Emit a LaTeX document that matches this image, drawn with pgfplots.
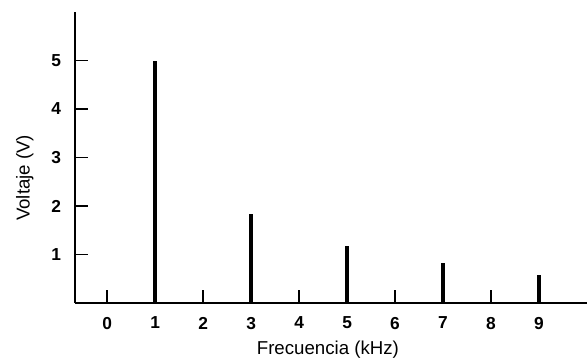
\documentclass[border=0pt]{standalone}
\usepackage{pgfplots}
\pgfplotsset{compat=1.18}
\usepackage{fontspec}
\setmainfont{Liberation Sans}
\begin{document}
\begin{tikzpicture}
\begin{axis}[
  scale only axis,
  width=384pt, height=218.25pt,
  xmin=-0.67, xmax=10.0,
  ymin=0, ymax=6,
  axis lines=left,
  axis line style={-, line width=1.4pt, black},
  xtick={0,1,2,3,4,5,6,7,8,9},
  ytick={1,2,3,4,5},
  tick align=inside,
  major tick length=9.5pt,
  tick style={line width=1pt, black},
  /pgf/number format/assume math mode=true,
  tick label style={font=\fontsize{13}{15}\selectfont\bfseries},
  xticklabel style={yshift=-7pt},
  yticklabel style={xshift=-7pt},
  xlabel={Frecuencia (kHz)},
  ylabel={Voltaje (V)},
  label style={font=\fontsize{14}{16}\selectfont},
  xlabel style={at={(axis description cs:0.494,-0.16)}, anchor=center},
  ylabel style={at={(axis description cs:-0.098,0.43)}, anchor=center},
  clip=false,
]
\addplot[ycomb, line width=2.8pt, black, mark=none] coordinates {
  (1,5.0) (3,1.84) (5,1.17) (7,0.83) (9,0.57)
};
\end{axis}
\pgfresetboundingbox
\useasboundingbox (current axis.south west) ++(-56.25pt,-41.25pt) rectangle ++(440.25pt,268.5pt);
\end{tikzpicture}
\end{document}
